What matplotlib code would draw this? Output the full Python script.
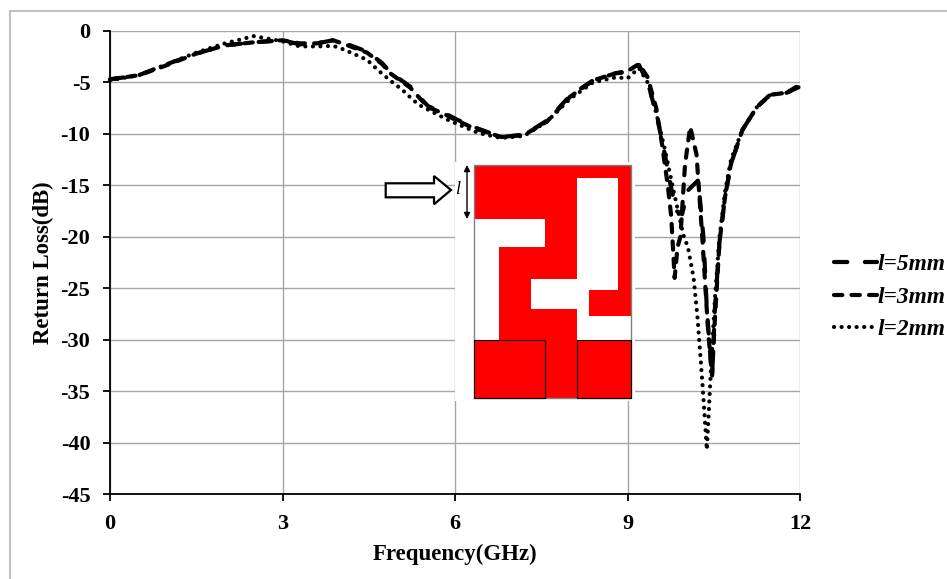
import matplotlib
matplotlib.use('Agg')
import matplotlib.pyplot as plt
from matplotlib.patches import Polygon, Rectangle, FancyArrowPatch

W, H = 947, 579

freq_5 = [0, 0.5, 1, 1.5, 2, 2.5, 3, 3.3, 3.6, 3.88, 4.09, 4.47, 4.73, 4.87, 5.22, 5.43, 5.53, 5.79, 6.03, 6.31, 6.8, 7.2, 7.6, 8, 8.4, 8.8, 9.0, 9.2,
          9.35, 9.5, 9.65, 9.75, 9.85, 9.95, 10.05, 10.23, 10.32, 10.38, 10.47, 10.52, 10.6, 10.7, 10.8, 11.0, 11.25, 11.48, 11.77, 12]
loss_5 = [-4.7, -4.3, -3.2, -2.2, -1.4, -1.1, -0.9, -1.3, -1.2, -0.9, -1.2, -2.0, -3.1, -4.0, -5.4, -6.7, -7.3, -7.9, -8.6, -9.3, -10.3, -10.1, -8.7, -6.3, -4.8, -4.1, -4.0, -3.3,
          -5, -8, -12, -15, -17.5, -17.8, -15.5, -14.5, -20, -27, -33.7, -27, -20.5, -16, -12.9, -9.6, -7.4, -6.2, -6, -5.4]

freq_3 = [0, 0.5, 1, 1.5, 2, 2.5, 3, 3.3, 3.6, 3.88, 4.09, 4.47, 4.73, 4.87, 5.22, 5.43, 5.53, 5.79, 6.03, 6.31, 6.8, 7.2, 7.6, 8, 8.4, 8.8, 9.0, 9.2,
          9.35, 9.5, 9.6, 9.7, 9.76, 9.82, 9.87, 9.92, 10.0, 10.09, 10.2, 10.3, 10.4, 10.47, 10.52, 10.6, 10.7, 10.8, 11.0, 11.25, 11.48, 11.77, 12]
loss_3 = [-4.7, -4.3, -3.3, -2.2, -1.4, -1.1, -0.9, -1.2, -1.2, -0.9, -1.3, -2.1, -3.2, -4.1, -5.5, -6.8, -7.4, -8.0, -8.7, -9.4, -10.3, -10.1, -8.8, -6.4, -4.8, -4.1, -3.9, -3.2,
          -4.5, -7.5, -11, -15, -18, -24, -21, -20, -13, -9.3, -12, -20, -29, -33.5, -28, -20.5, -16, -12.9, -9.6, -7.4, -6.2, -6, -5.2]

freq_2 = [0, 0.5, 1, 1.5, 2, 2.5, 3, 3.3, 3.6, 3.88, 4.0, 4.23, 4.47, 4.66, 4.87, 5.08, 5.27, 5.38, 5.62, 5.86, 6.4, 6.8, 7.2, 7.6, 8, 8.4, 8.8, 9.0, 9.2,
          9.35, 9.5, 9.65, 9.8, 9.9, 9.97, 10.05, 10.15, 10.22, 10.3, 10.38, 10.45, 10.52, 10.6, 10.7, 10.8, 11.0, 11.25, 11.48, 11.77, 12]
loss_2 = [-4.8, -4.3, -3.2, -2.1, -1.2, -0.5, -1.0, -1.5, -1.5, -1.45, -1.65, -2.2, -2.8, -3.8, -4.8, -5.7, -6.7, -7.2, -7.9, -8.6, -9.9, -10.4, -10.2, -8.8, -6.6, -5.0, -4.5, -4.6, -3.6,
          -5, -8, -11.5, -15.5, -18, -19.8, -21, -24, -28, -34, -40.7, -33, -26, -20, -15.5, -12.5, -9.6, -7.4, -6.2, -6, -5.3]

x_ticks = [0, 3, 6, 9, 12]
y_ticks = [0, -5, -10, -15, -20, -25, -30, -35, -40, -45]
series_labels = ['l=5mm', 'l=3mm', 'l=2mm']

plt.rcParams['font.family'] = 'Liberation Serif'
plt.rcParams['font.weight'] = 'bold'
plt.rcParams['axes.labelweight'] = 'bold'
plt.rcParams['axes.unicode_minus'] = False

fig = plt.figure(figsize=(W / 100, H / 100), dpi=100)

# chart frame, right and bottom edges are off the canvas
fig.add_artist(Rectangle((9.5 / W, -0.05), 1.1, 1.05 - 11 / H, transform=fig.transFigure,
                         fill=False, ec='#b4b4b4', lw=1.2))

ax = fig.add_axes([110 / W, 1 - 494 / H, 690 / W, 463 / H])
ax.set_xlim(0, 12)
ax.set_ylim(-45, 0)
ax.grid(True, color='#a6a6a6', lw=1.0)
ax.set_axisbelow(True)
ax.set_xticks(x_ticks)
ax.set_yticks(y_ticks)
ax.tick_params(axis='both', labelsize=16, width=1.3, length=4.7, color='black')
ax.tick_params(axis='y', pad=9.5)
ax.tick_params(axis='x', pad=10)
for s in ['top', 'right']:
    ax.spines[s].set_visible(False)
for s in ['left', 'bottom']:
    ax.spines[s].set_linewidth(1.3)
ax.set_xlabel('Frequency(GHz)', fontsize=16.5, labelpad=7)
ax.set_ylabel('Return Loss(dB)', fontsize=16.5, labelpad=5)

ax.plot(freq_5, loss_5, color='black', lw=3.0, ls=(0, (3.2, 4.2)), dash_capstyle='round', label=series_labels[0], zorder=3, clip_on=False)
ax.plot(freq_3, loss_3, color='black', lw=3.0, ls=(0, (2.0, 2.2)), dash_capstyle='round', label=series_labels[1], zorder=3, clip_on=False)
ax.plot(freq_2, loss_2, color='black', lw=3.0, ls=(0, (0.01, 1.8)), dash_capstyle='round', label=series_labels[2], zorder=3, clip_on=False)

leg = ax.legend(loc='upper left', bbox_to_anchor=(834 / W, 1 - 254 / H), bbox_transform=fig.transFigure,
                frameon=False, borderpad=0, borderaxespad=0, handlelength=1.85, handletextpad=0.02, labelspacing=0.48,
                prop={'family': 'Liberation Serif', 'weight': 'bold', 'style': 'italic', 'size': 16.8})

# antenna inset, drawn in figure pixels
ov = fig.add_axes([0, 0, 1, 1], facecolor='none')
ov.set_xlim(0, W)
ov.set_ylim(H, 0)
ov.axis('off')
ov.add_patch(Rectangle((455, 162), 180, 239, fc='white', ec='none', zorder=4))
ov.add_patch(Rectangle((474, 164.7), 157, 233.3, fc='#ff0000', ec='none', zorder=5))
hole_a = [(474, 219.3), (544.7, 219.3), (544.7, 247.3), (499, 247.3), (499, 340), (474, 340)]
hole_b = [(576.7, 178), (618, 178), (618, 290), (589.3, 290), (589.3, 316), (631, 316), (631, 340),
          (576.7, 340), (576.7, 308.7), (531, 308.7), (531, 279.3), (576.7, 279.3)]
for hole in [hole_a, hole_b]:
    ov.add_patch(Polygon(hole, closed=True, fc='white', ec='none', zorder=6))
ov.add_patch(Rectangle((474, 164.7), 157, 233.3, fill=False, ec='#808080', lw=1.0, zorder=6.5))
ov.add_patch(Rectangle((474, 340), 70.7, 58, fc='#ff0000', ec='black', lw=0.8, zorder=7))
ov.add_patch(Rectangle((576.7, 340), 54.3, 58, fc='#ff0000', ec='black', lw=0.8, zorder=7))
arrow = [(385.7, 183.3), (434, 183.3), (434, 176), (451, 190), (434, 204.3), (434, 197.3), (385.7, 197.3)]
ov.add_patch(Polygon(arrow, closed=True, fc='white', ec='black', lw=1.6, zorder=7))
ov.add_patch(FancyArrowPatch((467, 165), (467, 219), arrowstyle='<|-|>', mutation_scale=9, color='black', lw=1.0,
                             shrinkA=0, shrinkB=0, zorder=7))
ov.text(458, 190, 'l', style='italic', fontsize=13, weight='normal', ha='center', va='center', zorder=7)

fig.savefig('out.png', dpi=100)
